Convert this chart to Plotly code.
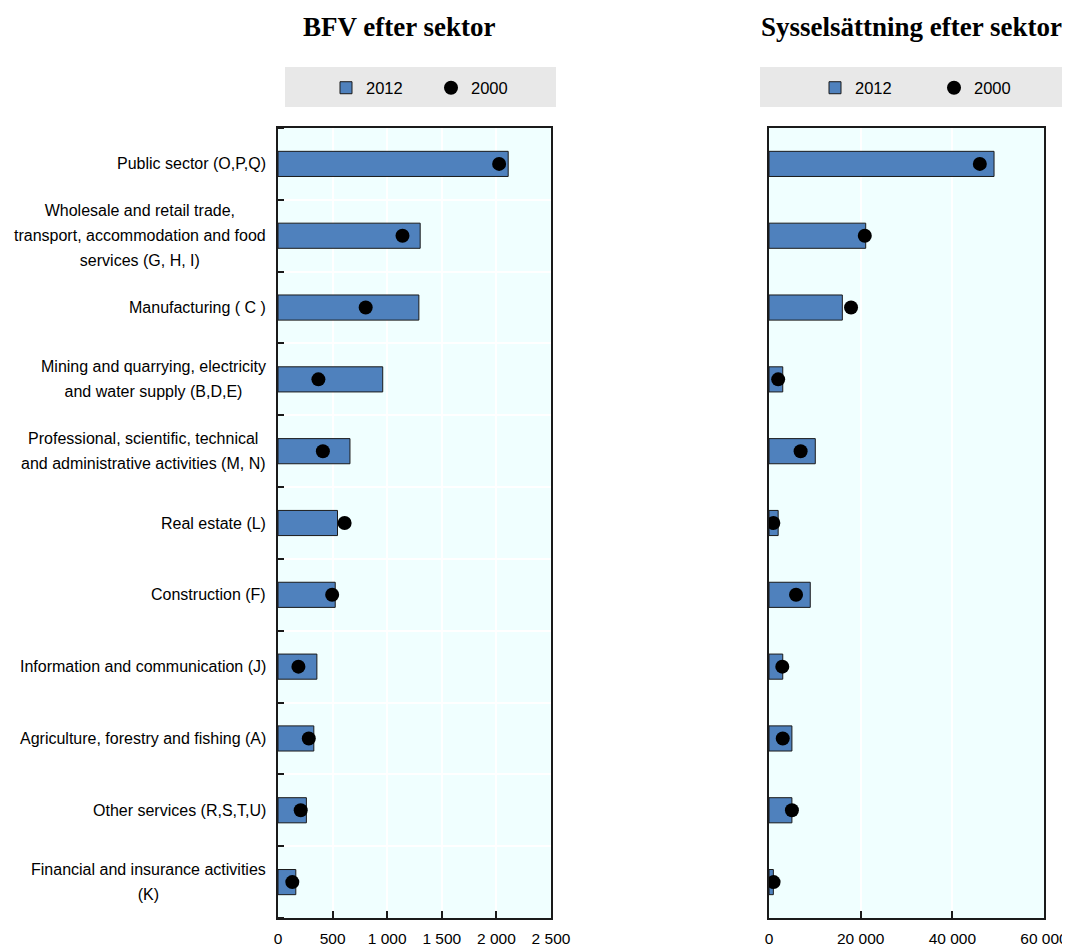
import plotly.graph_objects as go

categories = [
    "Public sector (O,P,Q)",
    "Wholesale and retail trade,<br>transport, accommodation and food<br>services (G, H, I)",
    "Manufacturing ( C )",
    "Mining and quarrying, electricity<br>and water supply (B,D,E)",
    "Professional, scientific, technical<br>and administrative activities (M, N)",
    "Real estate (L)",
    "Construction (F)",
    "Information and communication (J)",
    "Agriculture, forestry and fishing (A)",
    "Other services (R,S,T,U)",
    "Financial and insurance activities<br>(K)",
]
gva_2012 = [2108, 1302, 1290, 959, 659, 545, 524, 356, 328, 260, 163]
gva_2000 = [2025, 1140, 803, 370, 411, 610, 496, 187, 282, 208, 131]
emp_2012 = [49100, 21100, 16000, 3000, 10100, 2000, 9000, 3000, 5000, 5000, 950]
emp_2000 = [46000, 20900, 17900, 2000, 6900, 950, 5900, 2900, 3000, 5000, 1000]
gva_ticks = [0, 500, 1000, 1500, 2000, 2500]
emp_ticks = [0, 20000, 40000, 60000]
titles = ["BFV efter sektor", "Sysselsättning efter sektor"]
series_names = ["2012", "2000"]

pos = list(range(len(categories)))
OFF = 8                      # page body margin
W, H = 1070 - OFF, 950 - OFF


def px(x):
    return (x - OFF) / W


def py(y):
    return (H - (y - OFF)) / H


SANS = "Liberation Sans, Arial, sans-serif"
FS = 16.5
LABEL_FS = 16
TICK_FS = 15.5
BAR = "#4F81BD"
BG = "#F0FFFF"
EDGE = "#1a1a1a"

fig = go.Figure()


def add_panel(xa, ya, v12, v00, legend):
    fig.add_trace(go.Bar(
        x=v12, y=pos, orientation="h", width=0.35, name=series_names[0],
        marker=dict(color=BAR, line=dict(color=EDGE, width=1)),
        xaxis=xa, yaxis=ya, legend=legend, showlegend=True))
    fig.add_trace(go.Scatter(
        x=v00, y=pos, mode="markers", name=series_names[1],
        marker=dict(color="black", size=14, symbol="circle"),
        xaxis=xa, yaxis=ya, legend=legend, showlegend=True))


add_panel("x", "y", gva_2012, gva_2000, "legend")
add_panel("x2", "y2", emp_2012, emp_2000, "legend2")

ydom = [py(918), py(128)]
xdom1 = [px(278), px(551)]
xdom2 = [px(769), px(1044)]

axis_common = dict(showline=True, mirror=True, linecolor=EDGE, linewidth=1.5,
                   zeroline=False)
xaxis_common = dict(tickformat=",d", ticks="inside", ticklen=7, tickcolor=EDGE,
                    tickwidth=1.5, showgrid=True, gridcolor="white", gridwidth=1.5,
                    ticklabelstandoff=6, tickfont=dict(family=SANS, size=TICK_FS))

fig.update_layout(
    width=W, height=H,
    margin=dict(l=0, r=0, t=0, b=0, autoexpand=False),
    paper_bgcolor="white", plot_bgcolor=BG,
    separators=". ",
    font=dict(family=SANS, size=FS, color="black"),
    showlegend=True,
    xaxis=dict(domain=xdom1, range=[0, 2500], tickvals=gva_ticks, anchor="y",
               **xaxis_common, **axis_common),
    yaxis=dict(domain=ydom, range=[10.5, -0.5], tickvals=pos, showticklabels=False,
               ticks="", showgrid=False, anchor="x",
               minor=dict(tickvals=[p - 0.5 for p in pos] + [10.5], ticks="inside",
                          ticklen=6, tickcolor=EDGE, tickwidth=1.5,
                          showgrid=True, gridcolor="white", gridwidth=1.5),
               **axis_common),
    xaxis2=dict(domain=xdom2, range=[0, 60000], tickvals=emp_ticks, anchor="y2",
                **xaxis_common, **axis_common),
    yaxis2=dict(domain=ydom, range=[10.5, -0.5], showticklabels=False, ticks="",
                showgrid=False, anchor="x2", **axis_common),
    legend=dict(orientation="h", x=px(326), xanchor="left", y=py(88), yanchor="middle",
                bgcolor="rgba(0,0,0,0)", font=dict(family=SANS, size=FS),
                entrywidth=60, itemwidth=30, traceorder="normal"),
    legend2=dict(orientation="h", x=px(815), xanchor="left", y=py(88), yanchor="middle",
                 bgcolor="rgba(0,0,0,0)", font=dict(family=SANS, size=FS),
                 entrywidth=74, itemwidth=30, traceorder="normal"),
)

# legend background boxes
for x0, x1 in [(285, 556), (760, 1065)]:
    fig.add_shape(type="rect", xref="paper", yref="paper", x0=px(x0), x1=px(x1),
                  y0=py(107), y1=py(67), fillcolor="#E8E8E8", line=dict(width=0),
                  layer="below")

# panel titles
for t, xc in zip(titles, [399, 911]):
    fig.add_annotation(text="<b>%s</b>" % t, x=px(xc), y=py(27), xref="paper", yref="paper",
                       xanchor="center", yanchor="middle", showarrow=False,
                       font=dict(family="Liberation Serif, Times New Roman, serif",
                                 size=27, color="black"))

# category labels (line height 25px)
LINE_FS = 25 / 1.3
for p, c in zip(pos, categories):
    txt = "<br>".join('<span style="font-size:%spx">%s</span>' % (LABEL_FS, line)
                      for line in c.split("<br>"))
    fig.add_annotation(text=txt, x=px(268), xref="paper", y=p, yref="y", xanchor="right",
                       yanchor="middle", align="center", showarrow=False,
                       font=dict(family=SANS, size=LINE_FS, color="black"))

fig.write_html("out.html")
